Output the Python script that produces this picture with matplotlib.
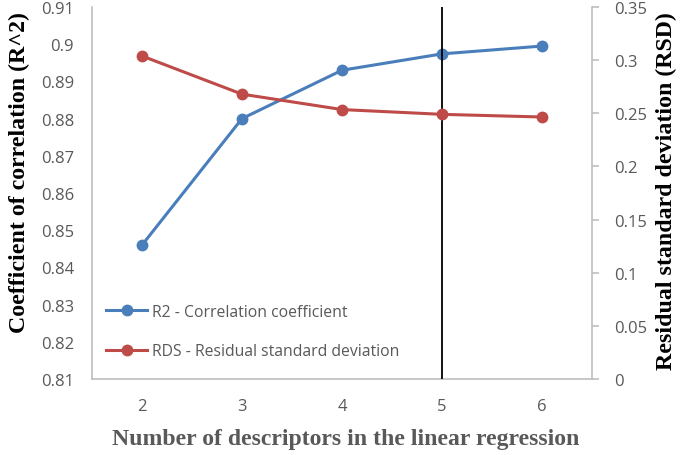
import matplotlib; matplotlib.use("Agg")
import matplotlib.pyplot as plt

n_desc = [2, 3, 4, 5, 6]
r2 = [0.846, 0.880, 0.893, 0.8974, 0.8995]
rsd = [0.3039, 0.268, 0.2535, 0.249, 0.2465]
left_ticks = [0.81, 0.82, 0.83, 0.84, 0.85, 0.86, 0.87, 0.88, 0.89, 0.9, 0.91]
right_ticks = [0, 0.05, 0.1, 0.15, 0.2, 0.25, 0.3, 0.35]
vline_at = 5

blue = "#4A7EBB"; red = "#BE4B48"; grey = "#595959"; spine = "#BFBFBF"
tickfont = "Open Sans"
W, H = 685, 456

fig = plt.figure(figsize=(6.85, 4.56), dpi=100)
ax = fig.add_axes([92/W, 1-380/H, 500/W, 372/H])
ax2 = ax.twinx()

l1, = ax.plot(n_desc, r2, color=blue, lw=2.2, marker="o", ms=7.5,
              label="R2 - Correlation coefficient")
l2, = ax2.plot(n_desc, rsd, color=red, lw=2.2, marker="o", ms=7.5,
               label="RDS - Residual standard deviation")
ax.axvline(vline_at, color="black", lw=1.3, zorder=5)

ax.set_xlim(1.5, 6.5)
ax.set_ylim(0.81, 0.91)
ax2.set_ylim(0, 0.35)
ax.set_xticks(n_desc)
ax.set_xticklabels([str(v) for v in n_desc])
ax.set_yticks(left_ticks)
ax.set_yticklabels([f"{v:g}" for v in left_ticks])
ax2.set_yticks(right_ticks)
ax2.set_yticklabels([f"{v:g}" for v in right_ticks])

for a in (ax, ax2):
    a.spines["top"].set_visible(False)
    for s in ("left", "right", "bottom"):
        a.spines[s].set_color(spine)
        a.spines[s].set_linewidth(1.2)
ax.spines["right"].set_visible(False)
ax2.spines["left"].set_visible(False)
ax2.spines["bottom"].set_visible(False)

ax.tick_params(axis="y", length=0, pad=13, labelsize=12, labelcolor=grey)
ax.tick_params(axis="x", length=0, pad=14, labelsize=12, labelcolor=grey)
ax2.tick_params(axis="y", length=5, width=1.2, color=spine, pad=11,
                labelsize=12, labelcolor=grey)
for lab in ax.get_xticklabels() + ax.get_yticklabels() + ax2.get_yticklabels():
    lab.set_family(tickfont)

# axis titles placed as figure text, sized to the reference lengths
lbl = dict(fontweight="bold", family="Liberation Serif", ha="center", va="center")
t_x = fig.text(346/W, 1-440/H, "Number of descriptors in the linear regression",
               color=grey, fontsize=15, **lbl)
t_l = fig.text(19/W, 1-173/H, "Coefficient of correlation (R^2)", rotation=90,
               color="black", fontsize=15, **lbl)
t_r = fig.text(666/W, 1-191/H, "Residual standard deviation (RSD)", rotation=90,
               color="black", fontsize=15, **lbl)
fig.canvas.draw()
r = fig.canvas.get_renderer()
for t, target, horiz in ((t_x, 468, True), (t_l, 320, False), (t_r, 357, False)):
    bb = t.get_window_extent(r)
    cur = bb.width if horiz else bb.height
    t.set_fontsize(15 * target / cur)

ax2.legend(handles=[l1, l2], loc="lower left", bbox_to_anchor=(0.0, 0.015),
           frameon=False, labelcolor=grey, handlelength=2.6,
           handletextpad=0.3, labelspacing=1.5, prop={"family": tickfont, "size": 11.3})

fig.savefig("out.png", dpi=100)
